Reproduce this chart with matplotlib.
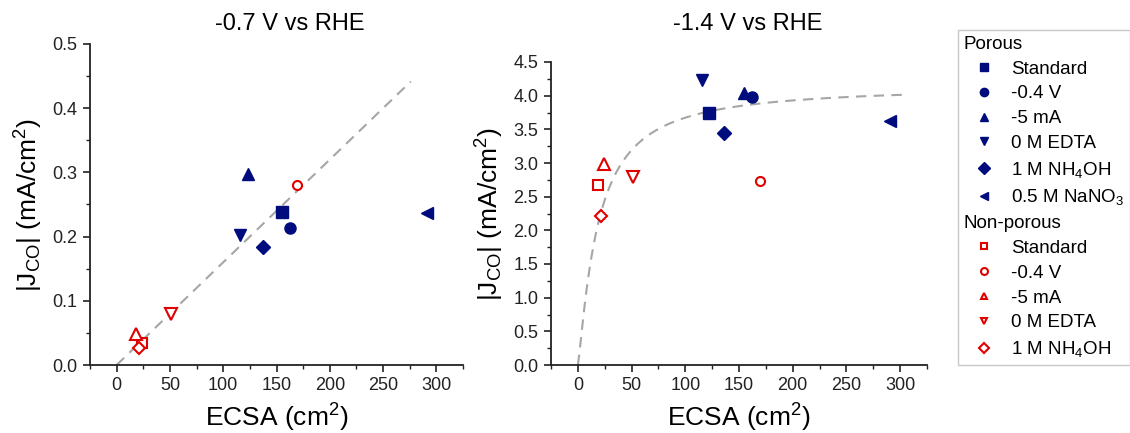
import numpy as np
import matplotlib
matplotlib.use("Agg")
import matplotlib.pyplot as plt
from matplotlib.lines import Line2D
from matplotlib.ticker import MultipleLocator

plt.rcParams['font.family'] = ['Liberation Sans', 'DejaVu Sans']
plt.rcParams['mathtext.fontset'] = 'custom'
plt.rcParams['mathtext.rm'] = 'Liberation Sans'
plt.rcParams['mathtext.it'] = 'Liberation Sans:italic'

# samples (same order for porous / non-porous)
porous_labels = ["Standard", "-0.4 V", "-5 mA", "0 M EDTA", "1 M NH$_4$OH", "0.5 M NaNO$_3$"]
nonporous_labels = ["Standard", "-0.4 V", "-5 mA", "0 M EDTA", "1 M NH$_4$OH"]
porous_markers = ["s", "o", "^", "v", "D", "<"]
nonporous_markers = ["s", "o", "^", "v", "D"]

# -0.7 V vs RHE
ecsa_p_07 = [154.8, 162.6, 122.8, 115.3, 136.9, 291.4]
jco_p_07 = [0.238, 0.213, 0.298, 0.203, 0.184, 0.236]
ecsa_n_07 = [24.1, 169.5, 18.2, 51.1, 21.3]
jco_n_07 = [0.035, 0.281, 0.049, 0.080, 0.026]

# -1.4 V vs RHE
ecsa_p_14 = [122.1, 162.1, 154.7, 115.7, 136.1, 290.8]
jco_p_14 = [3.738, 3.985, 4.04, 4.232, 3.45, 3.628]
ecsa_n_14 = [18.6, 169.5, 24.1, 51.4, 21.3]
jco_n_14 = [2.668, 2.733, 2.985, 2.787, 2.213]

# fit lines
lin_slope = 0.0016
lin_xmax = 276
hill_vmax, hill_k, hill_n = 4.15, 18.5, 1.21
hill_xmax = 308

blue = "#000c7d"
red = "#e00000"
fitgray = "#a6a6a6"

fig = plt.figure(figsize=(11.3, 4.33), dpi=100)
ax1 = fig.add_axes([90 / 1130, 1 - 365 / 433, 373 / 1130, 321 / 433])
ax2 = fig.add_axes([551 / 1130, 1 - 365 / 433, 376 / 1130, 303 / 433])


def draw(ax, xp, yp, xn, yn):
    for x, y, m in zip(xp, yp, porous_markers):
        ms = 8 if m in ("s", "o") else 9
        if m == "D":
            ms = 7
        ax.plot(x, y, marker=m, color=blue, ms=ms, linestyle="none", zorder=3)
    for x, y, m in zip(xn, yn, nonporous_markers):
        ms = 6.5 if m in ("s", "o", "D") else 8
        if m == "D":
            ms = 6
        ax.plot(x, y, marker=m, mfc="white", mec=red, mew=1.5, ms=ms,
                linestyle="none", zorder=3)
    ax.set_xlim(-25, 325)
    ax.xaxis.set_major_locator(MultipleLocator(50))
    ax.xaxis.set_minor_locator(MultipleLocator(25))
    for s in ("top", "right"):
        ax.spines[s].set_visible(False)
    for s in ("left", "bottom"):
        ax.spines[s].set_linewidth(1.3)
        ax.spines[s].set_color("#222222")
    ax.tick_params(which="major", direction="out", length=5, width=1.2,
                   labelsize=13, colors="#222222", pad=4)
    ax.tick_params(which="minor", direction="out", length=3, width=1.0,
                   colors="#222222")
    ax.set_xlabel("ECSA (cm$^2$)", fontsize=19, labelpad=5)
    ax.set_ylabel("|J$_{\\mathrm{CO}}$| (mA/cm$^2$)", fontsize=19, labelpad=5)


draw(ax1, ecsa_p_07, jco_p_07, ecsa_n_07, jco_n_07)
xl = np.linspace(0, lin_xmax, 50)
ax1.plot(xl, lin_slope * xl, "--", color=fitgray, lw=1.5, dashes=(5, 3.5), zorder=1)
ax1.set_ylim(0, 0.5)
ax1.yaxis.set_minor_locator(MultipleLocator(0.05))
ax1.set_yticks(np.arange(0, 0.51, 0.1))
ax1.set_yticklabels([f"{v:.1f}" for v in np.arange(0, 0.51, 0.1)])

draw(ax2, ecsa_p_14, jco_p_14, ecsa_n_14, jco_n_14)
xh = np.linspace(0, hill_xmax, 300)
yh = hill_vmax * xh ** hill_n / (hill_k ** hill_n + xh ** hill_n)
ax2.plot(xh, yh, "--", color=fitgray, lw=1.5, dashes=(5, 3.5), zorder=1)
ax2.set_ylim(0, 4.5)
ax2.set_yticks(np.arange(0, 4.51, 0.5))
ax2.set_yticklabels([f"{v:.1f}" for v in np.arange(0, 4.51, 0.5)])
ax2.yaxis.set_minor_locator(MultipleLocator(0.25))

fig.text(290 / 1130, 1 - 24 / 433, "-0.7 V vs RHE", fontsize=17, ha="center", va="center")
fig.text(748 / 1130, 1 - 24 / 433, "-1.4 V vs RHE", fontsize=17, ha="center", va="center")

# legend with group headers
blank = Line2D([], [], linestyle="none")
handles = [blank]
labels = ["Porous"]
for lab, m in zip(porous_labels, porous_markers):
    handles.append(Line2D([], [], marker=m, color=blue, linestyle="none", ms=6))
    labels.append(lab)
handles.append(blank)
labels.append("Non-porous")
for lab, m in zip(nonporous_labels, nonporous_markers):
    handles.append(Line2D([], [], marker=m, mfc="white", mec=red, mew=1.5,
                          linestyle="none", ms=5))
    labels.append(lab)

leg = fig.legend(handles, labels, loc="upper left", bbox_to_anchor=(958 / 1130, 1 - 30 / 433),
                 frameon=True, fancybox=False, fontsize=13.5, handlelength=2.2,
                 handletextpad=0.35, labelspacing=0.41, borderpad=0.3, borderaxespad=0)
leg.get_frame().set_edgecolor("#bbbbbb")
leg.get_frame().set_linewidth(1.0)

headers = {"Porous", "Non-porous"}
for vpack in leg._legend_handle_box.get_children():
    for hpack in vpack.get_children():
        da, ta = hpack.get_children()
        if ta.get_children()[0].get_text() in headers:
            da.width = 0
            hpack.sep = 0

fig.savefig("out.png", dpi=100)
